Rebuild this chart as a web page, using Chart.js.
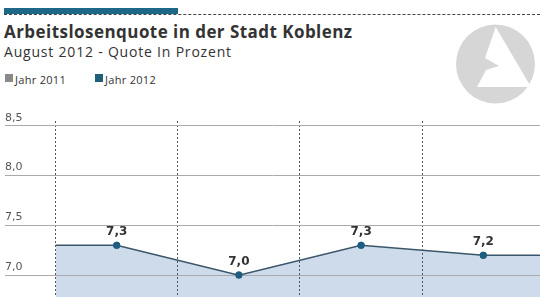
<!DOCTYPE html>
<html><head><meta charset="utf-8">
<script src="https://cdn.jsdelivr.net/npm/chart.js@4/dist/chart.umd.min.js"></script>
<style>
html,body{margin:0;padding:0;background:#fff;width:540px;height:304px;overflow:hidden;position:relative;font-family:'Open Sans',sans-serif}
#bar{position:absolute;left:4px;top:8px;width:174px;height:6px;background:#1d6788}
#dash{position:absolute;left:4px;right:0;top:14px;border-top:1px dashed #444}
#title{position:absolute;left:4px;top:20px;font-weight:700;font-size:17px;letter-spacing:0.45px;color:#333;white-space:nowrap;line-height:normal}
#sub{position:absolute;left:4px;top:42px;font-size:14px;letter-spacing:0.8px;color:#333;white-space:nowrap;line-height:normal}
.leg{position:absolute;top:72px;font-size:11px;letter-spacing:0.3px;color:#333;white-space:nowrap;line-height:normal}
.sw{position:absolute;top:74px;width:8px;height:8px}
#logo{position:absolute;left:455px;top:24px}
canvas{position:absolute;left:0;top:0}
</style></head>
<body>
<div id="bar"></div><div id="dash"></div>
<div id="title">Arbeitslosenquote in der Stadt Koblenz</div>
<div id="sub">August 2012 - Quote In Prozent</div>
<div class="sw" style="left:5px;background:#8a8a8a"></div><div class="leg" style="left:15px">Jahr 2011</div>
<div class="sw" style="left:95px;background:#1f5f7a"></div><div class="leg" style="left:105px">Jahr 2012</div>
<svg id="logo" width="82" height="82" viewBox="0 0 82 82">
<defs><clipPath id="c"><circle cx="40.5" cy="40" r="39.5"/></clipPath></defs>
<circle cx="40.5" cy="40" r="39.5" fill="#d6d6d6"/>
<polygon clip-path="url(#c)" fill="#fff" points="40.7,3 76,63 22,63 31,46 44,42 30,34"/>
</svg>
<canvas id="chart" width="540" height="304"></canvas>
<script>
const categories = ['Mai', 'Juni', 'Juli', 'August'];
const values2012 = [7.3, 7.0, 7.3, 7.2];
const yTickValues = [7.0, 7.5, 8.0, 8.5];
const bandEdges = [-0.5, 0.5, 1.5, 2.5, 3.5];

const fmt = v => v.toFixed(1).replace('.', ',');

const points = values2012.map((v, i) => ({x: i, y: v}));
const lineData = [{x: -0.5, y: values2012[0]}, ...points, {x: values2012.length - 0.5, y: values2012[values2012.length - 1]}];
const radii = lineData.map((p, i) => (i === 0 || i === lineData.length - 1) ? 0 : 3.5);

const labelPlugin = {
  id: 'valueLabels',
  afterDraw(chart) {
    const meta = chart.getDatasetMeta(0);
    const ctx = chart.ctx;
    ctx.save();
    for (let i = 1; i < lineData.length - 1; i++) meta.data[i].draw(ctx, chart.chartArea);
    ctx.font = 'bold 12px "DejaVu Sans"';
    ctx.fillStyle = '#333';
    ctx.textAlign = 'center';
    ctx.textBaseline = 'alphabetic';
    for (let i = 1; i < lineData.length - 1; i++) {
      const el = meta.data[i];
      ctx.fillText(fmt(lineData[i].y), el.x, el.y - 10);
    }
    ctx.restore();
  }
};

new Chart(document.getElementById('chart'), {
  type: 'line',
  data: {
    datasets: [{
      label: 'Jahr 2012',
      data: lineData,
      borderColor: '#3b566a',
      borderWidth: 1.5,
      backgroundColor: '#cddbea',
      fill: 'start',
      tension: 0,
      pointRadius: radii,
      pointHoverRadius: radii,
      pointBackgroundColor: '#1d5d80',
      pointBorderWidth: 0
    }]
  },
  options: {
    responsive: false,
    animation: false,
    devicePixelRatio: 1,
    layout: {padding: {left: 5, top: 121, right: 0, bottom: 0}},
    plugins: {legend: {display: false}, tooltip: {enabled: false}},
    scales: {
      x: {
        type: 'linear',
        min: -0.914, max: 3.464,
        afterBuildTicks: s => { s.ticks = bandEdges.map(v => ({value: v})); },
        ticks: {display: false},
        border: {display: false, dash: [2, 2]},
        grid: {z: 1, drawTicks: false, color: '#555', lineWidth: 1}
      },
      y: {
        min: 6.776, max: 8.549,
        afterBuildTicks: s => { s.ticks = yTickValues.map(v => ({value: v})); },
        ticks: {mirror: true, padding: 0, labelOffset: -8, color: '#555', font: {family: 'DejaVu Sans', size: 11}, callback: v => fmt(v)},
        border: {display: false},
        grid: {z: 1, drawTicks: false, color: '#aaa', lineWidth: 1}
      }
    }
  },
  plugins: [labelPlugin]
});
</script>
</body></html>
